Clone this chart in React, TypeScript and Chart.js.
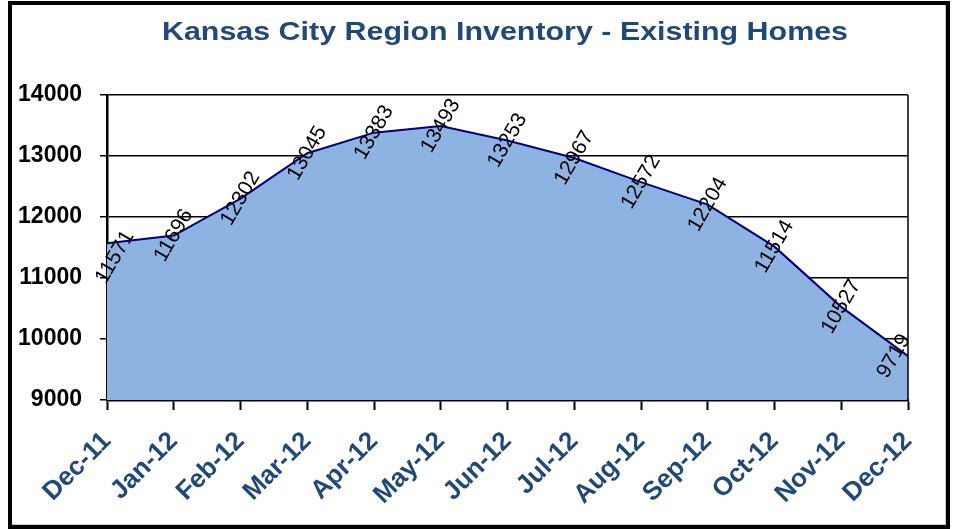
import React, { useEffect, useRef } from "react";
import { Chart, registerables } from "chart.js";

Chart.register(...registerables);

const categories = ["Dec-11", "Jan-12", "Feb-12", "Mar-12", "Apr-12", "May-12", "Jun-12", "Jul-12", "Aug-12", "Sep-12", "Oct-12", "Nov-12", "Dec-12"];
const inventory = [11571, 11696, 12302, 13045, 13383, 13493, 13253, 12967, 12572, 12204, 11514, 10527, 9719];
const yTicks = [9000, 10000, 11000, 12000, 13000, 14000];
const titleText = "Kansas City Region Inventory - Existing Homes";

const FONT = "'Liberation Sans', Arial, sans-serif";
const NAVY = "#1F497D";

const decorPlugin = {
  id: "decor",
  beforeDraw(chart: any) {
    const { ctx, width, height } = chart;
    ctx.save();
    ctx.fillStyle = "#ffffff";
    ctx.fillRect(0, 0, width, height);
    ctx.restore();
  },
  afterDraw(chart: any) {
    const { ctx, chartArea } = chart;
    ctx.save();
    // plot right border
    ctx.strokeStyle = "#000000";
    ctx.lineWidth = 1.5;
    ctx.beginPath();
    ctx.moveTo(chartArea.right, chartArea.top);
    ctx.lineTo(chartArea.right, chartArea.bottom);
    ctx.stroke();
    // outer border
    ctx.strokeStyle = "#c8c8c8";
    ctx.lineWidth = 1;
    ctx.beginPath();
    ctx.moveTo(945.5, 5);
    ctx.lineTo(945.5, 524.5);
    ctx.lineTo(12, 524.5);
    ctx.stroke();
    ctx.strokeStyle = "#000000";
    ctx.lineWidth = 4;
    ctx.strokeRect(10, 3, 938, 524);
    // title (horizontally widened like the reference)
    ctx.fillStyle = NAVY;
    ctx.font = `bold 25px ${FONT}`;
    ctx.textAlign = "center";
    ctx.textBaseline = "alphabetic";
    const w = ctx.measureText(titleText).width;
    const sx = 686 / w;
    ctx.translate(505, 40);
    ctx.scale(sx, 1);
    ctx.fillText(titleText, 0, 0);
    ctx.restore();
  },
};

const labelPlugin = {
  id: "valueLabels",
  afterDatasetsDraw(chart: any) {
    const { ctx, chartArea } = chart;
    const meta = chart.getDatasetMeta(0);
    const data = chart.data.datasets[0].data as number[];
    ctx.save();
    ctx.fillStyle = "#000000";
    ctx.font = `21px ${FONT}`;
    ctx.textAlign = "center";
    ctx.textBaseline = "middle";
    meta.data.forEach((pt: any, i: number) => {
      let cx = pt.x;
      let cy = pt.y;
      const minX = chartArea.left + 8;
      const maxX = chartArea.right - 14;
      if (cx < minX) {
        const d = minX - cx;
        cx = minX;
        cy += d * 1.75;
      } else if (cx > maxX) {
        cx = maxX;
      }
      ctx.save();
      ctx.translate(cx, cy);
      ctx.rotate(-Math.PI / 3);
      ctx.fillText(String(data[i]), 0, 0);
      ctx.restore();
    });
    ctx.restore();
  },
};

export default function App() {
  const ref = useRef<HTMLCanvasElement | null>(null);
  useEffect(() => {
    if (!ref.current) return;
    const chart = new Chart(ref.current, {
      type: "line",
      data: {
        labels: categories,
        datasets: [
          {
            data: inventory,
            borderColor: "#000080",
            borderWidth: 2,
            backgroundColor: "#8DB3E2",
            fill: "start",
            pointRadius: 0,
            tension: 0,
          },
        ],
      },
      options: {
        animation: false,
        responsive: false,
        devicePixelRatio: 1,
        layout: { padding: { left: 12, right: 46, top: 95, bottom: 0 } },
        plugins: {
          legend: { display: false },
          title: { display: false },
          tooltip: { enabled: false },
        },
        scales: {
          x: {
            type: "category",
            offset: false,
            grid: {
              drawOnChartArea: false,
              drawTicks: true,
              tickLength: 10,
              tickColor: "#000000",
              tickWidth: 2,
            },
            border: { color: "#000000", width: 2.5 },
            ticks: {
              autoSkip: false,
              maxRotation: 45,
              minRotation: 45,
              color: NAVY,
              font: { family: FONT, size: 26, weight: "bold" },
              padding: 16,
            },
            afterFit(scale: any) {
              scale.height = 129;
            },
          },
          y: {
            min: 9000,
            max: 14000,
            afterBuildTicks(scale: any) {
              scale.ticks = yTicks.map((v) => ({ value: v }));
            },
            grid: {
              color: "#000000",
              lineWidth: 1.5,
              tickLength: 7,
              tickColor: "#000000",
            },
            border: { color: "#000000", width: 2.5 },
            ticks: {
              color: "#000000",
              font: { family: FONT, size: 23, weight: "bold" },
              padding: 18,
              callback: (v: any) => String(v),
            },
            afterFit(scale: any) {
              scale.width = 95;
            },
          },
        },
      },
      plugins: [decorPlugin, labelPlugin],
    });
    return () => chart.destroy();
  }, []);
  return (
    <div style={{ position: "fixed", left: 0, top: 0, width: 954, height: 529 }}>
      <canvas ref={ref} width={954} height={529} style={{ display: "block", width: 954, height: 529 }} />
    </div>
  );
}
